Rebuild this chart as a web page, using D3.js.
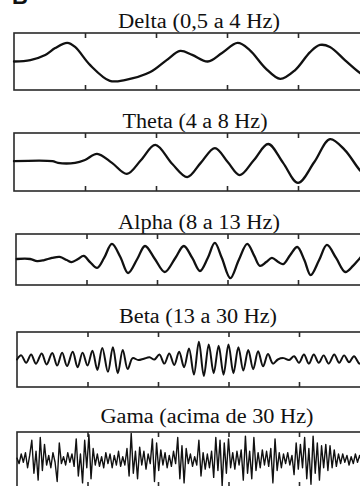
<!DOCTYPE html>
<html>
<head>
<meta charset="utf-8">
<script src="https://cdn.jsdelivr.net/npm/d3@7"></script>
<style>
  html, body { margin: 0; padding: 0; background: #fff; }
  svg { display: block; }
</style>
</head>
<body>
<svg id="chart" width="360" height="486"></svg>
<script>
// EEG frequency bands, one trace per panel; time in arbitrary units (0..5), amplitude normalised (-1..1)
const bandTitles = [
  "Delta (0,5 a 4 Hz)",
  "Theta (4 a 8 Hz)",
  "Alpha (8 a 13 Hz)",
  "Beta (13 a 30 Hz)",
  "Gama (acima de 30 Hz)"
];
const tickValues = [1, 2, 3, 4];

const deltaWave = [
  [0, 0], [0.23, 0.05], [0.44, 0.23], [0.58, 0.47], [0.75, 0.65], [0.86, 0.51],
  [1.07, -0.12], [1.35, -0.68], [1.56, -0.65], [1.92, -0.37], [2.15, 0.05],
  [2.34, 0.37], [2.51, 0.23], [2.73, 0.0], [2.93, 0.30], [3.15, 0.65], [3.32, 0.40],
  [3.54, -0.23], [3.75, -0.61], [3.96, -0.30], [4.17, 0.33], [4.31, 0.58],
  [4.45, 0.51], [4.66, 0.05], [4.87, -0.40], [5.04, -0.70]
];

const thetaWave = [
  [0, 0.03], [0.54, 0.03], [0.62, -0.03], [0.86, -0.03], [1.0, 0.07], [1.17, 0.28],
  [1.38, -0.03], [1.59, -0.41], [1.79, 0.07], [1.99, 0.59], [2.23, -0.07],
  [2.44, -0.52], [2.63, -0.03], [2.83, 0.48], [3.01, 0], [3.18, -0.45], [3.38, 0.07],
  [3.58, 0.62], [3.79, -0.03], [4.0, -0.72], [4.23, 0], [4.45, 0.79], [4.66, 0.41],
  [4.87, -0.28], [5.04, -0.69]
];

const alphaWave = [
  [0.01, 0.02], [0.20, 0.02], [0.30, -0.06], [0.40, -0.02], [0.51, 0.06], [0.62, 0.10],
  [0.72, -0.02], [0.79, -0.10], [0.88, 0.02], [0.96, 0.14], [1.05, -0.10], [1.15, -0.33],
  [1.25, 0.06], [1.36, 0.61], [1.48, 0.10], [1.59, -0.53], [1.72, 0.02], [1.83, 0.53],
  [1.97, 0.02], [2.11, -0.49], [2.26, 0.06], [2.38, 0.53], [2.50, 0.06], [2.61, -0.45],
  [2.72, 0.06], [2.82, 0.65], [2.92, 0.06], [3.04, -0.73], [3.16, -0.02], [3.28, 0.61],
  [3.38, 0.14], [3.46, -0.25], [3.55, -0.10], [3.63, 0.06], [3.72, -0.10], [3.79, -0.18],
  [3.89, 0.18], [3.99, 0.49], [4.09, -0.02], [4.18, -0.61], [4.30, -0.02], [4.41, 0.57],
  [4.54, 0.06], [4.67, -0.49], [4.78, -0.25], [4.88, 0.06], [4.99, 0.37]
];

const betaWave = [
  [0.00, 0.00], [0.06, 0.15], [0.13, -0.12], [0.20, 0.18], [0.27, -0.15], [0.35, 0.22],
  [0.42, -0.18], [0.50, 0.24], [0.57, -0.22], [0.64, 0.25], [0.71, -0.24], [0.79, 0.28],
  [0.86, -0.28], [0.93, 0.25], [1.00, -0.22], [1.07, 0.32], [1.14, -0.38], [1.21, 0.42],
  [1.29, -0.45], [1.36, 0.45], [1.43, -0.50], [1.50, 0.35], [1.57, -0.35], [1.64, 0.05],
  [1.72, -0.02], [1.80, 0.03], [1.88, 0.08], [1.95, 0.00], [2.02, 0.18], [2.09, -0.15],
  [2.16, 0.22], [2.23, -0.20], [2.30, 0.28], [2.37, -0.28], [2.44, 0.40], [2.51, -0.55],
  [2.58, 0.65], [2.65, -0.60], [2.72, 0.55], [2.79, -0.50], [2.86, 0.50], [2.93, -0.55],
  [3.00, 0.55], [3.07, -0.50], [3.14, 0.45], [3.21, -0.40], [3.28, 0.35], [3.35, -0.35],
  [3.42, 0.30], [3.49, -0.25], [3.56, 0.20], [3.63, -0.15], [3.70, 0.00], [3.78, 0.05],
  [3.86, -0.02], [3.93, 0.12], [4.00, -0.12], [4.07, 0.18], [4.14, -0.15], [4.21, 0.18],
  [4.28, -0.12], [4.35, 0.15], [4.42, -0.15], [4.50, 0.18], [4.57, -0.12], [4.64, 0.15],
  [4.71, -0.10], [4.78, 0.12], [4.86, -0.15], [4.93, 0.12], [5.00, 0.00]
];

// gamma is sampled at a fixed step between successive peaks/troughs
const gammaStep = 0.03;
const gammaValues = [
  0.05, -0.15, 0.2, -0.1, 0.25, -0.3, 0.15,
  0.7, -0.5, 0.3, -0.75, 0.8, -0.4, 0.55,
  -0.2, 0.15, -0.3, 0.25, -0.1,
  -0.8, 0.6,
  -0.15, 0.1, -0.2, 0.25, -0.1, 0.2, -0.25,
  0.75, -0.6, 0.2, -0.85, 0.7, -0.3, 0.9, -0.7, 0.4, -0.2,
  0.2, -0.25, 0.1, -0.3, 0.25, -0.15, 0.2, -0.3, 0.15, -0.2, 0.3, -0.25, 0.1, -0.2,
  0.4, -0.6, 0.95, -0.5, 0.3, -0.7, 0.45,
  -0.2, 0.3, -0.35, 0.2, -0.15,
  0.75, -0.8, 0.6, -0.4, 0.35,
  -0.2, 0.25, -0.3, 0.15, -0.25, 0.3, -0.15,
  0.8, -0.7, 0.5, -0.85, 0.4,
  -0.15, 0.2, -0.25, 0.1, -0.2,
  0.7, -0.6,
  0.25, -0.35, 0.2, -0.3, 0.3,
  -0.65, 0.8, -0.4, 0.7, -0.95, 0.6, -0.5, 0.75,
  -0.3, 0.25, -0.35, 0.3, -0.2, 0.35,
  -0.75, 0.85, -0.5, 0.3, -0.7, 0.8, -0.4,
  0.25, -0.3, 0.35, -0.2, 0.3, -0.25,
  0.4, -0.85, 0.75, -0.4, 0.25, -0.3,
  0.2, -0.15, 0.25, -0.2, 0.15,
  -0.55, 0.6, -0.35, 0.55, -0.3,
  0.8, -0.7, 0.4, -0.9, 0.85, -0.5, 0.6, -0.75, 0.5, -0.3,
  0.55, -0.4, 0.5, -0.3, 0.35, -0.25, 0.2,
  -0.15, 0.2, -0.1, 0.15, -0.2, 0.1, -0.15, 0.2, -0.1, 0.15, -0.1, 0.15, -0.2, 0.1
];
const gammaWave = gammaValues.map((v, i) => [i * gammaStep, v]);

const waves = [deltaWave, thetaWave, alphaWave, betaWave, gammaWave];

// panel geometry, title placement and trace styling
const layout = [
  { left: 14, unit: 71,   top: 33,  bottom: 90,  titleX: 199, titleY: 28,  titleW: 162, stroke: 2.3, curve: d3.curveCatmullRom },
  { left: 14, unit: 71,   top: 133, bottom: 191, titleX: 195, titleY: 128, titleW: 145, stroke: 2.3, curve: d3.curveCatmullRom },
  { left: 16, unit: 70.5, top: 234, bottom: 285, titleX: 199, titleY: 229, titleW: 162, stroke: 2.3, curve: d3.curveCatmullRom },
  { left: 17, unit: 70.5, top: 332, bottom: 387, titleX: 198, titleY: 323, titleW: 158, stroke: 2.0, curve: d3.curveCatmullRom },
  { left: 17, unit: 70.5, top: 432, bottom: 487, titleX: 207, titleY: 423, titleW: 213, stroke: 1.4, curve: d3.curveLinear }
];

const svg = d3.select("#chart");

// panel letter at the top-left corner, mostly above the page edge
svg.append("text")
  .attr("x", 12).attr("y", 4)
  .attr("font-family", "Liberation Sans, Arial, sans-serif")
  .attr("font-weight", "bold")
  .attr("font-size", 22)
  .attr("fill", "#111")
  .text("B");

layout.forEach((p, i) => {
  const x = d3.scaleLinear().domain([0, 5]).range([p.left, p.left + 5 * p.unit]);
  const y = d3.scaleLinear().domain([-1, 1]).range([p.bottom, p.top]);
  const g = svg.append("g");

  g.append("text")
    .attr("x", p.titleX).attr("y", p.titleY)
    .attr("text-anchor", "middle")
    .attr("font-family", "Liberation Serif, Times New Roman, serif")
    .attr("font-size", 20)
    .attr("textLength", p.titleW)
    .attr("lengthAdjust", "spacingAndGlyphs")
    .attr("fill", "#111")
    .text(bandTitles[i]);

  g.append("rect")
    .attr("x", x(0)).attr("y", y(1))
    .attr("width", x(5) - x(0) + 20)
    .attr("height", y(-1) - y(1))
    .attr("fill", "none")
    .attr("stroke", "#2a2a2a")
    .attr("stroke-width", 1.6);

  const topAxis = d3.axisTop(x).tickValues(tickValues).tickSizeInner(-5).tickSizeOuter(0).tickFormat("");
  const bottomAxis = d3.axisBottom(x).tickValues(tickValues).tickSizeInner(-5).tickSizeOuter(0).tickFormat("");
  [[topAxis, p.top], [bottomAxis, p.bottom]].forEach(([ax, yy]) => {
    const a = g.append("g").attr("transform", `translate(0,${yy})`).call(ax);
    a.select(".domain").remove();
    a.selectAll(".tick line").attr("stroke", "#2a2a2a").attr("stroke-width", 1.6);
  });

  const line = d3.line().x(d => x(d[0])).y(d => y(d[1])).curve(p.curve);
  g.append("path")
    .datum(waves[i])
    .attr("d", line)
    .attr("fill", "none")
    .attr("stroke", "#111")
    .attr("stroke-width", p.stroke)
    .attr("stroke-linejoin", "round")
    .attr("stroke-linecap", "round");
});
</script>
</body>
</html>
